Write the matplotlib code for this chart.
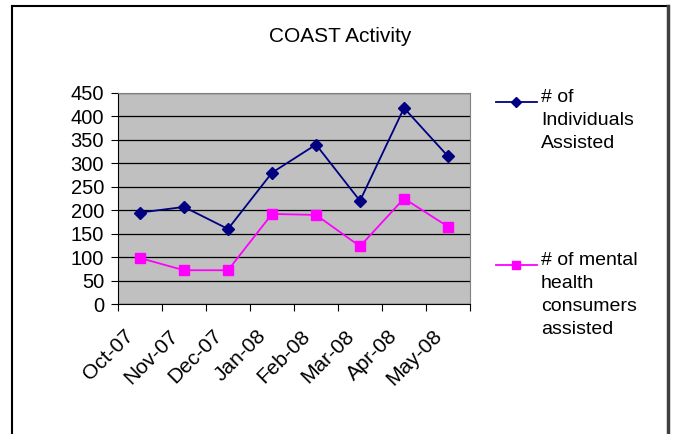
import matplotlib.pyplot as plt
from matplotlib.lines import Line2D
from matplotlib.transforms import ScaledTranslation

months = ["Oct-07", "Nov-07", "Dec-07", "Jan-08", "Feb-08", "Mar-08", "Apr-08", "May-08"]
individuals = [195, 207, 160, 280, 340, 220, 418, 315]
mental_health = [98, 72, 72, 192, 190, 123, 225, 165]
labels = ["# of\nIndividuals\nAssisted", "# of mental\nhealth\nconsumers\nassisted"]
colors = ['#000080', '#FF00FF']
markers = ['D', 's']

W, H = 673, 434
fig = plt.figure(figsize=(W / 100, H / 100), dpi=100)
plt.rcParams['font.family'] = ['Liberation Sans', 'DejaVu Sans']

# outer chart frame (bottom edge is cut off in the original)
fig.add_artist(Line2D([12 / W, 12 / W], [0, 1 - 6 / H], color='black', lw=1.5))
fig.add_artist(Line2D([12 / W, 668 / W], [1 - 6 / H, 1 - 6 / H], color='black', lw=1.5))
fig.add_artist(Line2D([668 / W, 668 / W], [0, 1 - 6 / H], color='#404040', lw=2.5))

ax = fig.add_axes([118 / W, 1 - 304 / H, 352 / W, 211 / H])
ax.set_facecolor('#C0C0C0')

x = list(range(len(months)))
for ys, c, m in zip([individuals, mental_health], colors, markers):
    ax.plot(x, ys, color=c, marker=m, markersize=6.5, lw=1.3)

ax.set_xlim(-0.5, len(months) - 0.5)
ax.set_ylim(0, 450)
ax.set_yticks(range(0, 451, 50))
ax.tick_params(axis='y', labelsize=14.5, length=5, direction='out', pad=5)
ax.yaxis.grid(True, color='black', lw=0.9)
ax.set_axisbelow(True)

ax.set_xticks([i - 0.5 for i in range(len(months) + 1)])
ax.set_xticklabels([])
ax.set_xticks(x, minor=True)
ax.set_xticklabels(months, minor=True, rotation=45, ha='right',
                   rotation_mode='anchor', fontsize=15)
ax.tick_params(axis='x', which='major', length=5, direction='out')
ax.tick_params(axis='x', which='minor', length=0, pad=16)
for t in ax.xaxis.get_minor_ticks():
    t.label1.set_transform(t.label1.get_transform()
                           + ScaledTranslation(-16 / 100, 0, fig.dpi_scale_trans))

for side in ['top', 'right']:
    ax.spines[side].set_color('#808080')
for side in ['left', 'bottom']:
    ax.spines[side].set_color('black')

fig.text(340 / W, 1 - 37 / H, "COAST Activity", ha='center', va='center', fontsize=15)

# legend, laid out like the spreadsheet one
for ypix, lab, c, m in zip([102, 265], labels, colors, markers):
    yf = 1 - ypix / H
    fig.add_artist(Line2D([496 / W, 537 / W], [yf, yf], color=c, lw=1.3))
    fig.add_artist(Line2D([516 / W], [yf], color=c, marker=m, markersize=5.5))
    fig.text(541 / W, 1 - (ypix - 13) / H, lab, ha='left', va='top',
             fontsize=14, linespacing=1.46)

fig.savefig("out.png", dpi=100)
